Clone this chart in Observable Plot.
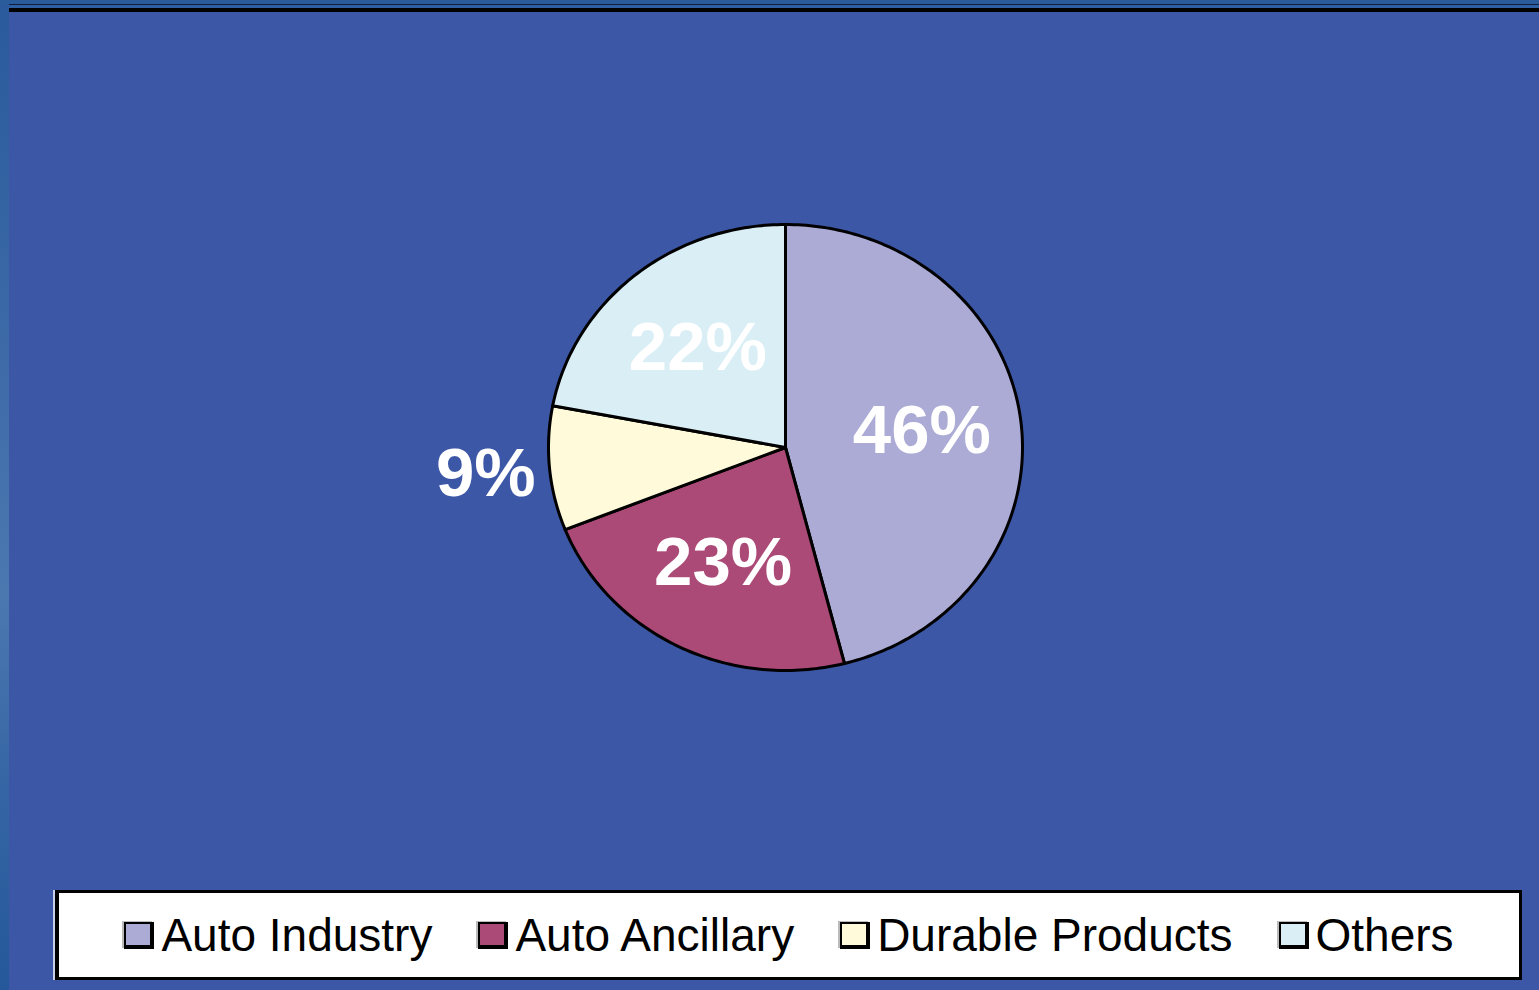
<!DOCTYPE html>
<html>
<head>
<meta charset="utf-8">
<script src="https://cdn.jsdelivr.net/npm/d3@7"></script>
<script src="https://cdn.jsdelivr.net/npm/@observablehq/plot@0.6"></script>
<style>
  html, body { margin: 0; padding: 0; }
  body { width: 1539px; height: 990px; background: #3D57A7; position: relative; overflow: hidden; font-family: "Liberation Sans", Arial, sans-serif; }
  #leftstrip { position: absolute; left: 0; top: 0; width: 9px; height: 990px;
    background: linear-gradient(to bottom, #2A5A9C 0%, #3A68A6 30%, #4C78B0 60%, #3565A4 80%, #24589A 100%); }
  #topband { position: absolute; left: 0; top: 0; width: 1539px; height: 4px; background: #2A5C9C; }
  #topline1 { position: absolute; left: 9px; top: 4px; width: 1530px; height: 1px; background: #0E1E40; }
  #topblue { position: absolute; left: 9px; top: 5px; width: 1530px; height: 3px; background: #2E5FA2; }
  #topline2 { position: absolute; left: 9px; top: 8px; width: 1530px; height: 4px; background: #000; }
  #chart { position: absolute; left: 0; top: 0; }
  #legend { position: absolute; left: 55px; top: 890px; width: 1460px; height: 84px;
    background: #fff; border: 3px solid #000; border-left: 4px solid #000;
    box-shadow: -2px 0 0 #c8d0e8;
    display: flex; align-items: center; justify-content: center; gap: 46px; }
  .item { display: flex; align-items: center; gap: 7px; font-size: 46px; color: #000; line-height: 1; }
  .sw { width: 24px; height: 21px; border: 2px solid #000; border-right-width: 4px; border-bottom-width: 4px; box-shadow: -2px -1px 0 #bbb; }
</style>
</head>
<body>
<div id="leftstrip"></div>
<div id="topband"></div>
<div id="topline1"></div>
<div id="topblue"></div>
<div id="topline2"></div>
<div id="chart"></div>
<div id="legend"></div>
<script>
const categories = ["Auto Industry", "Auto Ancillary", "Durable Products", "Others"];
const shares = [46, 23, 9, 22];
const colors = ["#ABABD5", "#AC4A77", "#FEFADA", "#D9EEF5"];
const labels = ["46%", "23%", "9%", "22%"];

// Slice geometry (clockwise from 12 o'clock) built from the shares
const total = d3.sum(shares);
const slices = [];
const labelRows = [];
let acc = 0;
shares.forEach((v, i) => {
  const a0 = acc / total * 2 * Math.PI;
  acc += v;
  const a1 = acc / total * 2 * Math.PI;
  slices.push({cat: categories[i], x: 0, y: 0});
  const n = Math.max(2, Math.ceil((a1 - a0) / (Math.PI / 180)));
  for (let k = 0; k <= n; k++) {
    const a = a0 + (a1 - a0) * k / n;
    slices.push({cat: categories[i], x: Math.sin(a), y: Math.cos(a)});
  }
  slices.push({cat: categories[i], x: 0, y: 0});
  const m = (a0 + a1) / 2;
  const r = v / total < 0.1 ? 1.27 : 0.58;
  labelRows.push({label: labels[i], x: r * Math.sin(m), y: r * Math.cos(m)});
});

const plot = Plot.plot({
  width: 1539,
  height: 880,
  margin: 0,
  style: {background: "transparent", overflow: "visible"},
  x: {domain: [-1, 1], range: [548, 1022], axis: null},
  y: {domain: [-1, 1], range: [670, 224], axis: null},
  color: {domain: categories, range: colors},
  marks: [
    Plot.line(slices, {x: "x", y: "y", z: "cat", fill: "cat", stroke: "#000", strokeWidth: 3, strokeLinejoin: "round", curve: "linear"}),
    Plot.text(labelRows, {x: "x", y: "y", text: "label", fill: "#fff", fontSize: 69, fontWeight: "bold", fontFamily: "Liberation Sans, Arial, sans-serif"})
  ]
});
document.getElementById("chart").appendChild(plot);

const legend = document.getElementById("legend");
categories.forEach((c, i) => {
  const item = document.createElement("div");
  item.className = "item";
  const sw = document.createElement("div");
  sw.className = "sw";
  sw.style.background = colors[i];
  const t = document.createElement("span");
  t.textContent = c;
  item.appendChild(sw);
  item.appendChild(t);
  legend.appendChild(item);
});
</script>
</body>
</html>
